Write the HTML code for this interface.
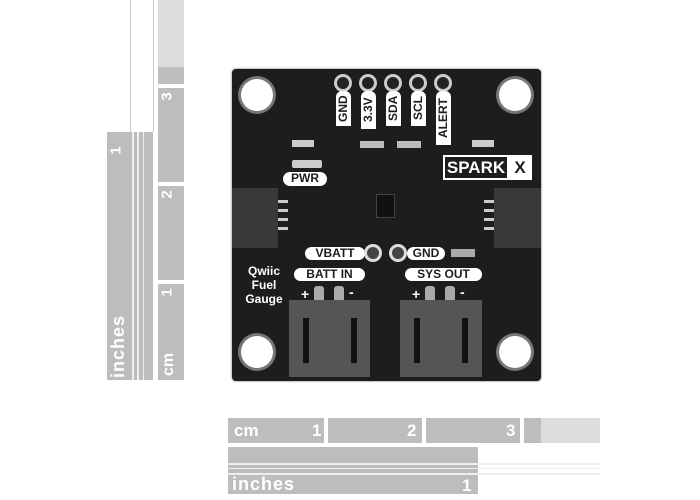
<!DOCTYPE html>
<html><head><style>
body{margin:0;width:700px;height:500px;background:#fff;position:relative;overflow:hidden;font-family:"Liberation Sans",sans-serif}
.a{position:absolute}
.g{background:#bdbdbd}
.lg{background:#dcdcdc}
.t{color:#fff;font-weight:bold;position:absolute}
.pill{position:absolute;background:#fff;color:#1e1c1c;font-weight:bold;border-radius:7px;font-size:12px;text-align:center;line-height:13px}
.hole{position:absolute;border-radius:50%;background:#fff;box-shadow:0 0 0 3px #777}
.pad{position:absolute;width:12px;height:12px;border-radius:50%;background:#222;box-shadow:0 0 0 3px #ccc}
.v{position:absolute;background:#fff;color:#1e1c1c;font-weight:bold;font-size:12px;width:15px;border-radius:0 0 6px 6px;writing-mode:vertical-rl;transform:rotate(180deg);text-align:center;line-height:15px}
</style></head><body>
<!-- vertical rulers -->
<div class="a g" style="left:107px;top:132px;width:46px;height:248px"></div>
<div class="a" style="left:130px;top:0;width:22px;height:132px;border-left:1px solid #ccc;border-right:1px solid #ccc"></div>
<div class="a lg" style="left:158px;top:0;width:26px;height:67px"></div>
<div class="a g" style="left:158px;top:67px;width:26px;height:17px"></div>
<div class="a g" style="left:158px;top:88px;width:26px;height:94px"></div>
<div class="a g" style="left:158px;top:186px;width:26px;height:94px"></div>
<div class="a g" style="left:158px;top:284px;width:26px;height:96px"></div>
<div class="a" style="left:132px;top:132px;width:2px;height:248px;background:#eee"></div>
<div class="a" style="left:137px;top:132px;width:2px;height:248px;background:#eee"></div>
<div class="a" style="left:143px;top:132px;width:1px;height:248px;background:#eee"></div>
<div class="t" style="left:108px;top:310px;font-size:18px;transform:rotate(-90deg);transform-origin:left top;top:378px;letter-spacing:1px">inches</div>
<div class="t" style="left:112px;top:142px;font-size:15px;transform:rotate(-90deg)">1</div>
<div class="t" style="left:163px;top:88px;font-size:15px;transform:rotate(-90deg)">3</div>
<div class="t" style="left:163px;top:186px;font-size:15px;transform:rotate(-90deg)">2</div>
<div class="t" style="left:163px;top:284px;font-size:15px;transform:rotate(-90deg)">1</div>
<div class="t" style="left:160px;top:376px;font-size:16px;transform:rotate(-90deg);transform-origin:left top">cm</div>
<!-- horizontal rulers -->
<div class="a g" style="left:228px;top:418px;width:96px;height:25px"></div>
<div class="a g" style="left:328px;top:418px;width:94px;height:25px"></div>
<div class="a g" style="left:426px;top:418px;width:94px;height:25px"></div>
<div class="a g" style="left:524px;top:418px;width:17px;height:25px"></div>
<div class="a lg" style="left:541px;top:418px;width:59px;height:25px"></div>
<div class="a g" style="left:228px;top:447px;width:250px;height:47px"></div>
<div class="a" style="left:228px;top:463px;width:372px;height:2px;background:#eee"></div>
<div class="a" style="left:228px;top:468px;width:372px;height:1px;background:#eee"></div>
<div class="a" style="left:228px;top:473px;width:372px;height:2px;background:#eee"></div>
<div class="t" style="left:234px;top:421px;font-size:17px">cm</div>
<div class="t" style="left:312px;top:421px;font-size:17px">1</div>
<div class="t" style="left:407px;top:421px;font-size:17px">2</div>
<div class="t" style="left:506px;top:421px;font-size:17px">3</div>
<div class="t" style="left:232px;top:474px;font-size:18px;letter-spacing:1px">inches</div>
<div class="t" style="left:462px;top:476px;font-size:17px">1</div>
<!-- board -->
<div class="a" style="left:232px;top:69px;width:309px;height:312px;background:#1e1c1c;border-radius:4px;box-shadow:0 0 2px #666"></div>
<div class="hole" style="left:241px;top:79px;width:32px;height:32px"></div>
<div class="hole" style="left:499px;top:79px;width:32px;height:32px"></div>
<div class="hole" style="left:241px;top:336px;width:32px;height:32px"></div>
<div class="hole" style="left:499px;top:336px;width:32px;height:32px"></div>
<div class="pad" style="left:337px;top:77px"></div>
<div class="pad" style="left:362px;top:77px"></div>
<div class="pad" style="left:387px;top:77px"></div>
<div class="pad" style="left:412px;top:77px"></div>
<div class="pad" style="left:437px;top:77px"></div>
<div class="v" style="left:336px;top:91px;height:35px">GND</div>
<div class="v" style="left:361px;top:91px;height:38px">3.3V</div>
<div class="v" style="left:386px;top:91px;height:35px">SDA</div>
<div class="v" style="left:411px;top:91px;height:35px">SCL</div>
<div class="v" style="left:436px;top:91px;height:54px">ALERT</div>
<div class="a" style="left:292px;top:140px;width:22px;height:7px;background:#ccc"></div>
<div class="a" style="left:360px;top:141px;width:24px;height:7px;background:#bbb"></div>
<div class="a" style="left:397px;top:141px;width:24px;height:7px;background:#bbb"></div>
<div class="a" style="left:472px;top:140px;width:22px;height:7px;background:#ccc"></div>
<div class="a" style="left:292px;top:160px;width:30px;height:8px;background:#ccc;border-radius:2px"></div>
<div class="pill" style="left:283px;top:172px;width:44px;height:14px">PWR</div>
<div class="a" style="left:443px;top:155px;width:89px;height:25px;background:#fff"></div>
<div class="a" style="left:445px;top:157px;width:62px;height:21px;background:#1e1c1c;color:#fff;font-weight:bold;font-size:17px;line-height:21px;text-align:center">SPARK</div>
<div class="a" style="left:509px;top:157px;width:22px;height:21px;color:#1e1c1c;font-weight:bold;font-size:17px;line-height:21px;text-align:center">X</div>
<div class="a" style="left:376px;top:194px;width:17px;height:22px;background:#111;border:1px solid #444"></div>
<div class="a" style="left:232px;top:188px;width:46px;height:60px;background:#3a3838"></div>
<div class="a" style="left:278px;top:200px;width:10px;height:34px;background:repeating-linear-gradient(#ccc 0 3px,transparent 3px 9px)"></div>
<div class="a" style="left:494px;top:188px;width:47px;height:60px;background:#3a3838"></div>
<div class="a" style="left:484px;top:200px;width:10px;height:34px;background:repeating-linear-gradient(#ccc 0 3px,transparent 3px 9px)"></div>
<div class="pill" style="left:305px;top:247px;width:60px;height:13px">VBATT</div>
<div class="pad" style="left:367px;top:247px;box-shadow:0 0 0 3px #ddd;background:#444"></div>
<div class="pad" style="left:392px;top:247px;box-shadow:0 0 0 3px #ddd;background:#444"></div>
<div class="pill" style="left:407px;top:247px;width:38px;height:13px">GND</div>
<div class="a" style="left:451px;top:249px;width:24px;height:8px;background:#aaa"></div>
<div class="t" style="left:241px;top:264px;font-size:12px;line-height:14px;text-align:center;width:46px">Qwiic<br>Fuel<br>Gauge</div>
<div class="pill" style="left:294px;top:268px;width:71px;height:13px">BATT IN</div>
<div class="pill" style="left:405px;top:268px;width:77px;height:13px">SYS OUT</div>
<div class="t" style="left:301px;top:286px;font-size:14px">+</div>
<div class="t" style="left:349px;top:284px;font-size:14px">-</div>
<div class="t" style="left:412px;top:286px;font-size:14px">+</div>
<div class="t" style="left:460px;top:284px;font-size:14px">-</div>
<div class="a" style="left:314px;top:286px;width:10px;height:30px;background:#aaa;border-radius:3px"></div>
<div class="a" style="left:334px;top:286px;width:10px;height:30px;background:#aaa;border-radius:3px"></div>
<div class="a" style="left:425px;top:286px;width:10px;height:30px;background:#aaa;border-radius:3px"></div>
<div class="a" style="left:445px;top:286px;width:10px;height:30px;background:#aaa;border-radius:3px"></div>
<div class="a" style="left:289px;top:300px;width:81px;height:77px;background:#555"></div>
<div class="a" style="left:303px;top:318px;width:6px;height:45px;background:#111"></div>
<div class="a" style="left:351px;top:318px;width:6px;height:45px;background:#111"></div>
<div class="a" style="left:400px;top:300px;width:82px;height:77px;background:#555"></div>
<div class="a" style="left:414px;top:318px;width:6px;height:45px;background:#111"></div>
<div class="a" style="left:462px;top:318px;width:6px;height:45px;background:#111"></div>
</body></html>
